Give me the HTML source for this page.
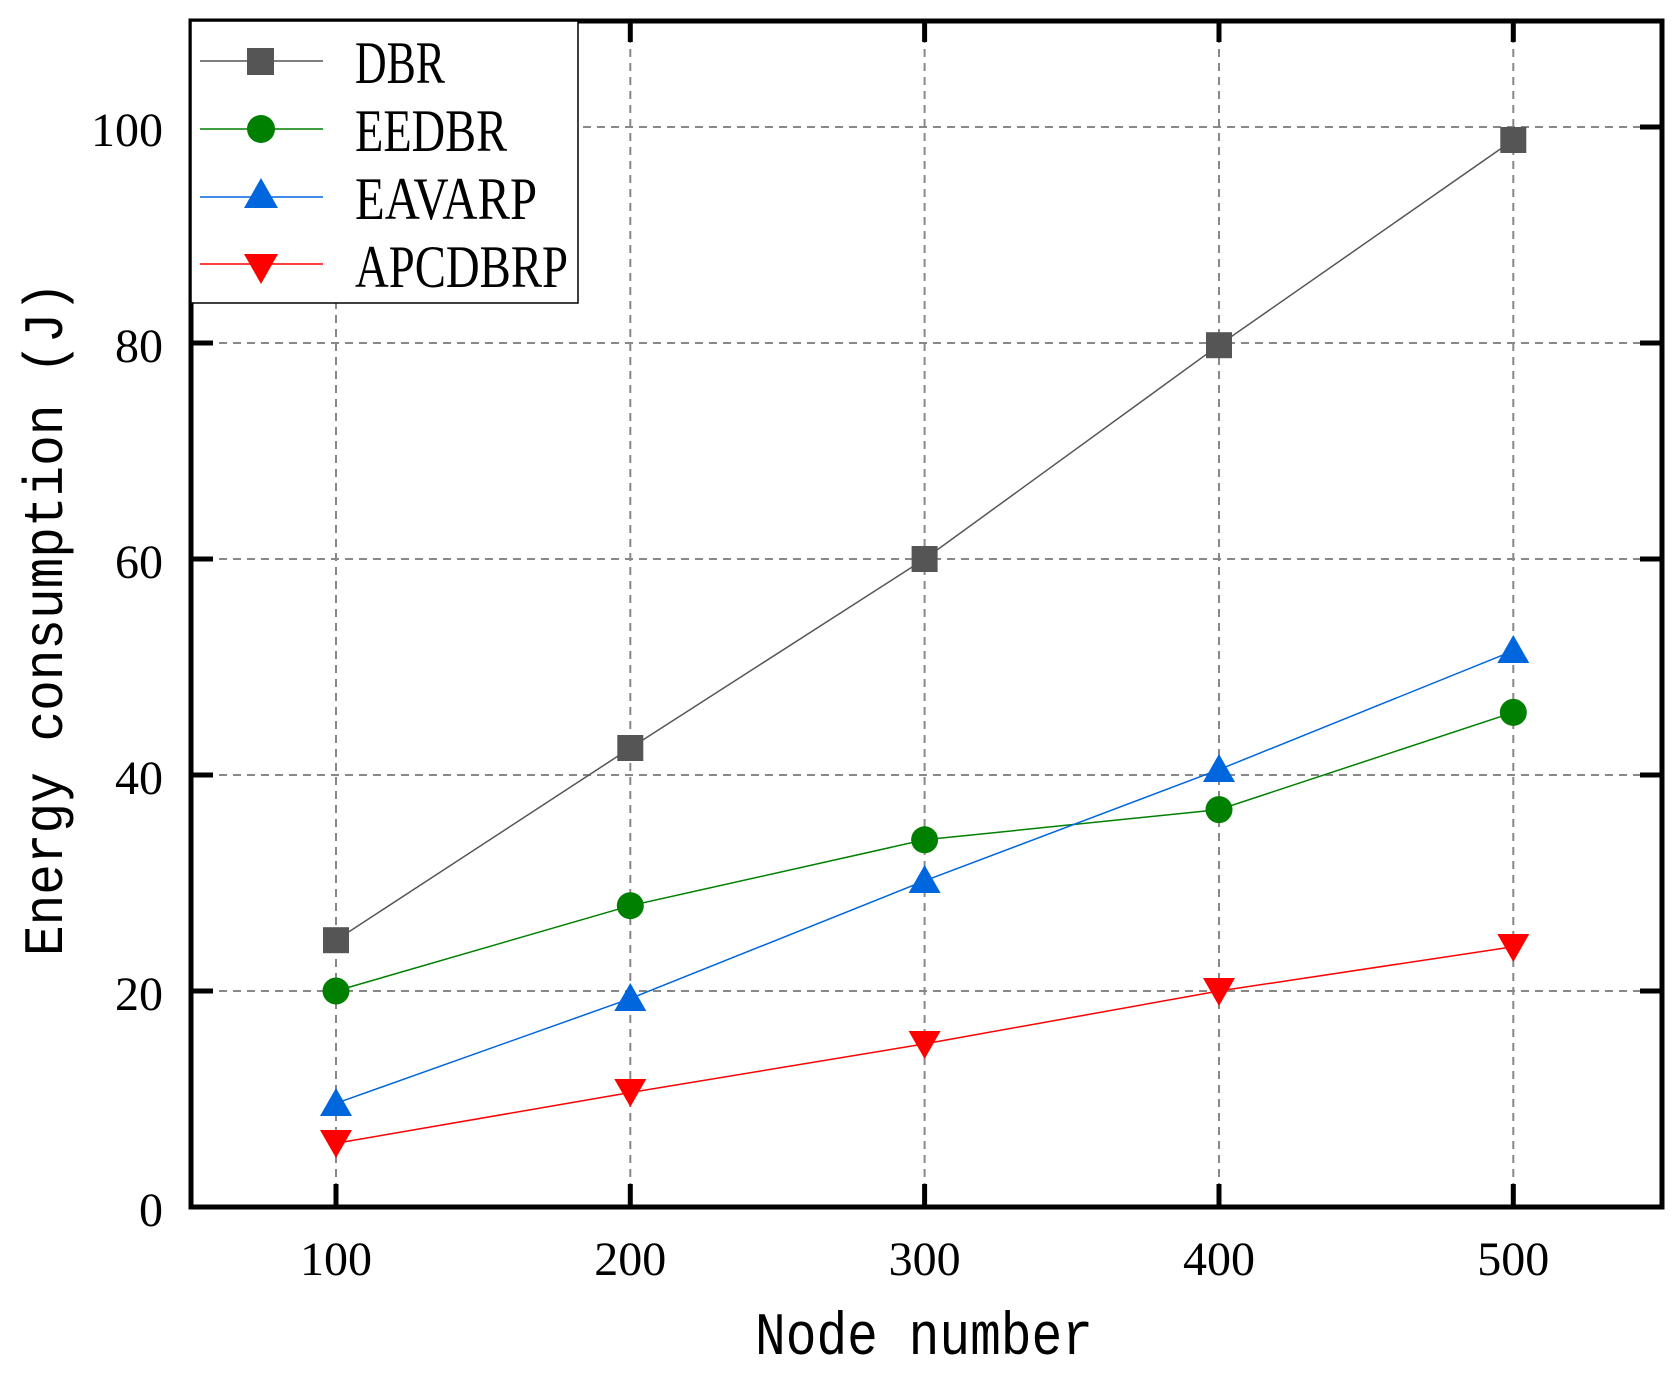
<!DOCTYPE html>
<html><head><meta charset="utf-8"><style>html,body{margin:0;padding:0;background:#fff}svg{display:block}</style></head><body>
<svg width="1680" height="1375" viewBox="0 0 1680 1375" xmlns="http://www.w3.org/2000/svg">
<rect width="1680" height="1375" fill="#fff"/>
<g stroke="#888" stroke-width="2" stroke-dasharray="8,6" fill="none">
<line x1="191" y1="991" x2="1662" y2="991"/>
<line x1="191" y1="775" x2="1662" y2="775"/>
<line x1="191" y1="559" x2="1662" y2="559"/>
<line x1="191" y1="343" x2="1662" y2="343"/>
<line x1="191" y1="127" x2="1662" y2="127"/>
<line x1="336" y1="21" x2="336" y2="1207"/>
<line x1="630.3" y1="21" x2="630.3" y2="1207"/>
<line x1="924.6" y1="21" x2="924.6" y2="1207"/>
<line x1="1219" y1="21" x2="1219" y2="1207"/>
<line x1="1513.3" y1="21" x2="1513.3" y2="1207"/>
</g>
<g stroke="#000" stroke-width="5">
<line x1="336" y1="1207" x2="336" y2="1184"/><line x1="630.3" y1="1207" x2="630.3" y2="1184"/><line x1="924.6" y1="1207" x2="924.6" y2="1184"/><line x1="1219" y1="1207" x2="1219" y2="1184"/><line x1="1513.3" y1="1207" x2="1513.3" y2="1184"/>
<line x1="336" y1="21" x2="336" y2="42"/><line x1="630.3" y1="21" x2="630.3" y2="42"/><line x1="924.6" y1="21" x2="924.6" y2="42"/><line x1="1219" y1="21" x2="1219" y2="42"/><line x1="1513.3" y1="21" x2="1513.3" y2="42"/>
<line x1="191" y1="991" x2="213" y2="991"/><line x1="191" y1="775" x2="213" y2="775"/><line x1="191" y1="559" x2="213" y2="559"/><line x1="191" y1="343" x2="213" y2="343"/><line x1="191" y1="127" x2="213" y2="127"/>
<line x1="1662" y1="991" x2="1640" y2="991"/><line x1="1662" y1="775" x2="1640" y2="775"/><line x1="1662" y1="559" x2="1640" y2="559"/><line x1="1662" y1="343" x2="1640" y2="343"/><line x1="1662" y1="127" x2="1640" y2="127"/>
</g>
<rect x="191" y="21" width="1471" height="1186" fill="none" stroke="#000" stroke-width="5"/>
<polyline fill="none" stroke="#555" stroke-width="1.5" points="336,940.2 630.3,748 924.6,559 1219,345.2 1513.3,140"/>
<polyline fill="none" stroke="#008000" stroke-width="1.5" points="336,991 630.3,905.7 924.6,839.8 1219,809.6 1513.3,712.4"/>
<polyline fill="none" stroke="#0066dd" stroke-width="1.5" points="336,1103.3 630.3,998.6 924.6,880.8 1219,769.6 1513.3,650.8"/>
<polyline fill="none" stroke="#ff0000" stroke-width="1.5" points="336,1143.3 630.3,1092.5 924.6,1043.9 1219,991 1513.3,946.7"/>
<g fill="#555">
<rect x="323" y="927.2" width="26" height="26"/><rect x="617.3" y="735" width="26" height="26"/><rect x="911.6" y="546" width="26" height="26"/><rect x="1206" y="332.2" width="26" height="26"/><rect x="1500.3" y="127" width="26" height="26"/>
</g>
<g fill="#008000">
<circle cx="336" cy="991" r="13.5"/><circle cx="630.3" cy="905.7" r="13.5"/><circle cx="924.6" cy="839.8" r="13.5"/><circle cx="1219" cy="809.6" r="13.5"/><circle cx="1513.3" cy="712.4" r="13.5"/>
</g>
<g fill="#0066dd">
<path d="M336,1088 l16,28 h-32z"/><path d="M630.3,983 l16,28 h-32z"/><path d="M924.6,865 l16,28 h-32z"/><path d="M1219,754 l16,28 h-32z"/><path d="M1513.3,635 l16,28 h-32z"/>
</g>
<g fill="#ff0000">
<path d="M336,1158 l16,-28 h-32z"/><path d="M630.3,1107 l16,-28 h-32z"/><path d="M924.6,1059 l16,-28 h-32z"/><path d="M1219,1006 l16,-28 h-32z"/><path d="M1513.3,962 l16,-28 h-32z"/>
</g>
<rect x="191" y="21" width="387" height="282" fill="#fff" stroke="#000" stroke-width="1.5"/>
<line x1="200" y1="61" x2="323" y2="61" stroke="#555" stroke-width="1.5"/><rect x="247" y="48" width="27" height="27" fill="#555"/>
<line x1="200" y1="129" x2="323" y2="129" stroke="#008000" stroke-width="1.5"/><circle cx="261" cy="129" r="14" fill="#008000"/>
<line x1="200" y1="197" x2="323" y2="197" stroke="#0066dd" stroke-width="1.5"/><path d="M261,178 l17,30 h-34z" fill="#0066dd"/>
<line x1="200" y1="264" x2="323" y2="264" stroke="#ff0000" stroke-width="1.5"/><path d="M261,284 l17,-30 h-34z" fill="#ff0000"/>
<g font-family="Liberation Serif, serif" font-size="60" fill="#000">
<text x="355" y="83" textLength="90" lengthAdjust="spacingAndGlyphs">DBR</text>
<text x="355" y="151" textLength="152" lengthAdjust="spacingAndGlyphs">EEDBR</text>
<text x="355" y="219" textLength="182" lengthAdjust="spacingAndGlyphs">EAVARP</text>
<text x="355" y="287" textLength="213" lengthAdjust="spacingAndGlyphs">APCDBRP</text>
</g>
<g font-family="Liberation Serif, serif" font-size="48" fill="#000" text-anchor="end">
<text x="163" y="1226">0</text><text x="163" y="1010">20</text><text x="163" y="794">40</text><text x="163" y="578">60</text><text x="163" y="362">80</text><text x="163" y="146">100</text>
</g>
<g font-family="Liberation Serif, serif" font-size="48" fill="#000" text-anchor="middle">
<text x="336" y="1275">100</text><text x="630.3" y="1275">200</text><text x="924.6" y="1275">300</text><text x="1219" y="1275">400</text><text x="1513.3" y="1275">500</text>
</g>
<text x="924" y="1354" font-family="Liberation Mono, monospace" font-size="60" text-anchor="middle" textLength="338" lengthAdjust="spacingAndGlyphs">Node number</text>
<text transform="translate(62,619) rotate(-90)" x="0" y="0" font-family="Liberation Mono, monospace" font-size="56" text-anchor="middle" textLength="674" lengthAdjust="spacingAndGlyphs">Energy consumption (J)</text>
</svg>
</body></html>
